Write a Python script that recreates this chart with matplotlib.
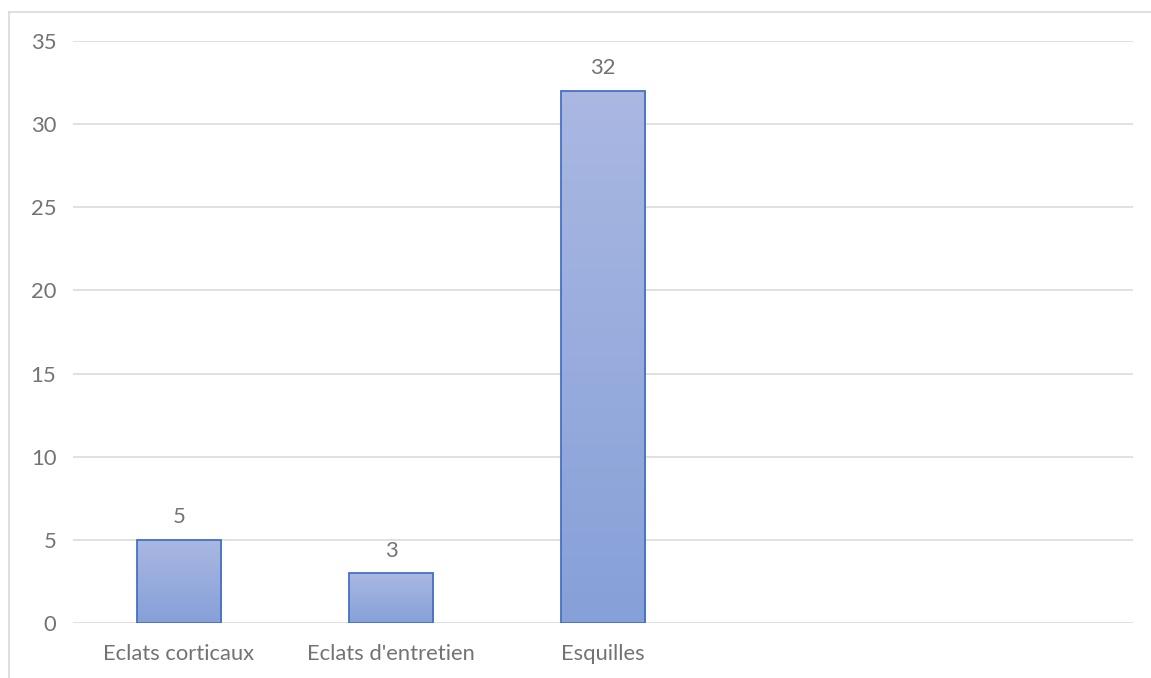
import numpy as np
import matplotlib
matplotlib.use("Agg")
import matplotlib.pyplot as plt
from matplotlib.lines import Line2D

# Data
categories = ["Eclats corticaux", "Eclats d'entretien", "Esquilles", "", ""]
values = [5, 3, 32, None, None]

plt.rcParams['font.family'] = ['Lato', 'DejaVu Sans']
txt = '#737373'
grid = '#d9d9d9'
fs = 15.8

fig = plt.figure(figsize=(11.51, 6.78), dpi=100)
ax = fig.add_axes([73/1151, 1-623/678, 1060/1151, 582/678])

ax.set_xlim(-0.5, len(categories)-0.5)
ax.set_ylim(0, 35)
ax.set_yticks(range(0, 36, 5))
ax.set_xticks(range(len(categories)))
ax.set_xticklabels(categories)
ax.yaxis.grid(True, color=grid, linewidth=1.1)
ax.set_axisbelow(True)
for s in ax.spines.values():
    s.set_visible(False)
ax.tick_params(length=0, colors=txt, labelsize=fs)
ax.tick_params(axis='y', pad=12)
ax.tick_params(axis='x', pad=15)

# gradient top -> bottom
grad = np.linspace(0, 1, 256).reshape(-1, 1)
top = np.array([170, 184, 226]) / 255
bot = np.array([134, 160, 216]) / 255
img = top + (bot - top) * grad[..., None]
img = img.reshape(256, 1, 3)

for i, v in enumerate(values):
    if v is None:
        continue
    b = ax.bar(i, v, width=0.4, color='none', edgecolor='#4472c4', linewidth=1.3, zorder=3)[0]
    im = ax.imshow(img, extent=[i-0.2, i+0.2, 0, v], aspect='auto', zorder=2)
    im.set_clip_path(b)
    ax.annotate(str(v), (i, v), xytext=(0, 9), textcoords='offset points',
                ha='center', va='bottom', color=txt, fontsize=fs)

ax.set_xlim(-0.5, len(categories)-0.5)
ax.set_ylim(0, 35)

# frame of the chart area (left and top visible)
fig.add_artist(Line2D([8.5/1151, 8.5/1151], [0, 1-12/678], color=grid, linewidth=1.2))
fig.add_artist(Line2D([8.5/1151, 1], [1-12/678, 1-12/678], color=grid, linewidth=1.2))

fig.savefig("out.png", dpi=100)
